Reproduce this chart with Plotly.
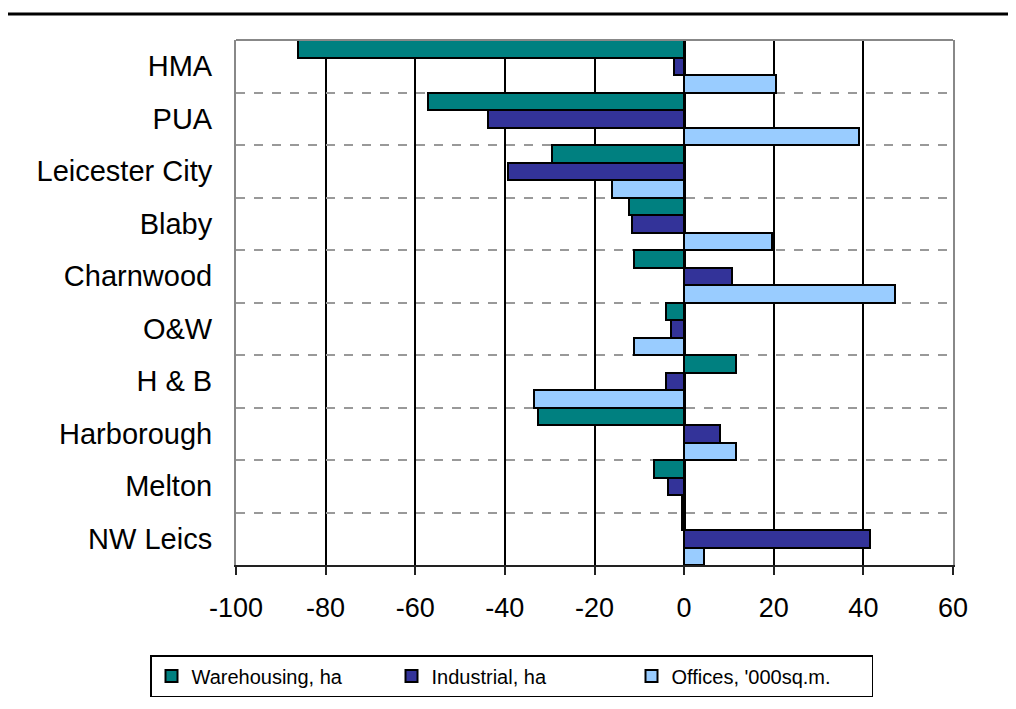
import plotly.graph_objects as go

categories = ["HMA", "PUA", "Leicester City", "Blaby", "Charnwood", "O&W",
              "H & B", "Harborough", "Melton", "NW Leics"]
warehousing = [-86.1, -57.1, -29.4, -12.2, -11.2, -4.0, 11.6, -32.5, -6.8, -0.4]
industrial = [-2.2, -43.8, -39.2, -11.7, 10.6, -3.0, -4.0, 7.9, -3.6, 41.4]
offices = [20.5, 39.1, -16.2, 19.6, 47.1, -11.1, -33.4, 11.6, -0.4, 4.4]
series_names = ["Warehousing, ha", "Industrial, ha", "Offices, '000sq.m."]
colors = ["#008080", "#333399", "#99CCFF"]
x_ticks = [-100, -80, -60, -40, -20, 0, 20, 40, 60]

W, H = 1000, 693
L, R, T, B = 228, 55, 32, 136
plot_h = H - T - B
plot_w = W - L - R

fig = go.Figure()
for name, vals, col in zip(series_names, [warehousing, industrial, offices], colors):
    fig.add_trace(go.Bar(
        y=categories, x=vals, name=name, orientation="h",
        marker=dict(color=col, line=dict(color="black", width=2)),
    ))

fig.update_layout(
    width=W, height=H,
    margin=dict(l=L, r=R, t=T, b=B, autoexpand=False),
    paper_bgcolor="white", plot_bgcolor="white",
    barmode="group", bargap=0, bargroupgap=0,
    font=dict(family="Liberation Sans, Arial, sans-serif", color="black", size=24),
    showlegend=True,
    legend=dict(
        orientation="h", x=(142 - L) / plot_w, xanchor="left",
        y=(H - B - 647) / plot_h, yanchor="top",
        bordercolor="black", borderwidth=1.5,
        font=dict(size=20),
        traceorder="normal", itemwidth=30, entrywidth=195,
    ),
    xaxis=dict(
        range=[-100, 60], tickvals=x_ticks, ticktext=[str(v) for v in x_ticks],
        showgrid=True, gridcolor="black", gridwidth=1.5,
        zeroline=True, zerolinecolor="black", zerolinewidth=3,
        showline=True, linecolor="#222", linewidth=2,
        ticks="outside", ticklen=8, tickcolor="#222", tickwidth=1.5,
        tickfont=dict(size=27), ticklabelstandoff=10,
    ),
    yaxis=dict(
        type="category", autorange="reversed",
        tickson="boundaries", showgrid=True, gridcolor="#999", gridwidth=1.5,
        griddash="dash",
        showline=True, linecolor="#888", linewidth=2, mirror=True,
        ticks="", ticklabelstandoff=16,
        tickfont=dict(size=29),
    ),
    shapes=[
        dict(type="line", xref="paper", yref="paper", x0=0, x1=1, y0=1, y1=1,
             line=dict(color="#888", width=2)),
        dict(type="line", xref="paper", yref="paper", x0=-L / plot_w, x1=(W - L) / plot_w,
             y0=(H - B - 6) / plot_h, y1=(H - B - 6) / plot_h,
             line=dict(color="black", width=3)),
    ],
)

fig.write_html("out.html")
